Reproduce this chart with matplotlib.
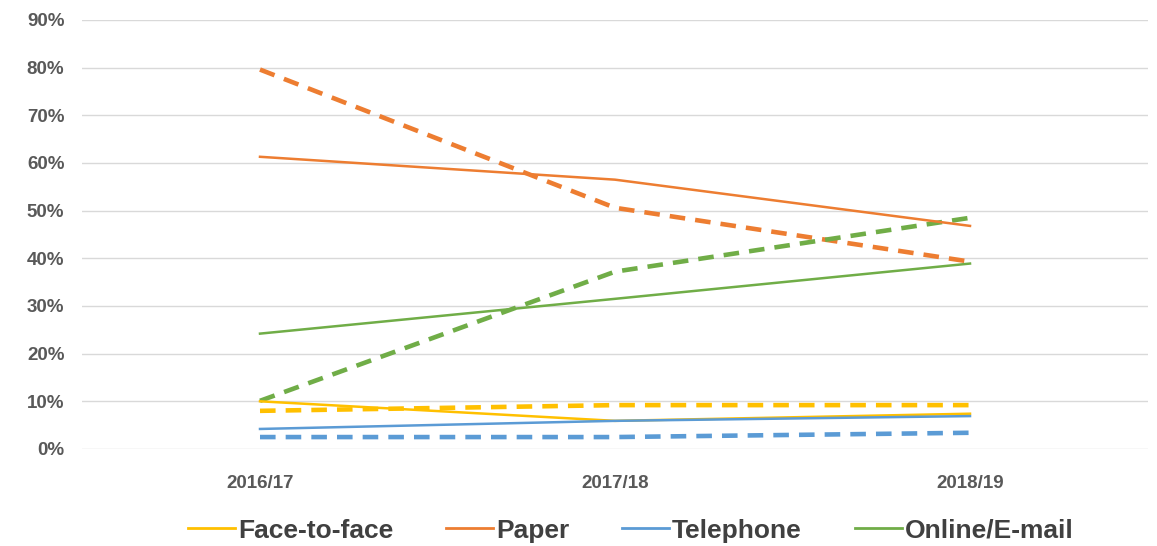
import matplotlib
matplotlib.use("Agg")
import matplotlib.pyplot as plt
from matplotlib.lines import Line2D

plt.rcParams['font.family'] = ['Liberation Sans', 'DejaVu Sans']

years = ["2016/17", "2017/18", "2018/19"]

# solid lines
face_solid = [10.0, 5.9, 7.4]
paper_solid = [61.3, 56.5, 46.8]
phone_solid = [4.2, 5.9, 6.9]
online_solid = [24.2, 31.5, 38.9]

# dashed lines
face_dash = [8.0, 9.2, 9.2]
paper_dash = [79.6, 50.6, 39.3]
phone_dash = [2.5, 2.5, 3.4]
online_dash = [10.1, 37.2, 48.5]

names = ["Face-to-face", "Paper", "Telephone", "Online/E-mail"]
colors = ["#FFC000", "#ED7D31", "#5B9BD5", "#70AD47"]

fig = plt.figure(figsize=(11.57, 5.46), dpi=100)
ax = fig.add_axes([0.0713, 0.1777, 0.9205, 0.7857])

x = list(range(len(years)))
solids = [face_solid, paper_solid, phone_solid, online_solid]
dashes = [face_dash, paper_dash, phone_dash, online_dash]

for vals, c in zip(dashes, colors):
    ax.plot(x, vals, color=c, lw=3.3, ls=(0, (3.4, 2.2)), solid_capstyle='butt')
for vals, c in zip(solids, colors):
    ax.plot(x, vals, color=c, lw=1.8)

ax.set_xlim(-0.5, 2.5)
ax.set_ylim(0, 90)
ax.set_yticks(range(0, 91, 10))
ax.set_yticklabels([f"{v}%" for v in range(0, 91, 10)])
ax.set_xticks(x)
ax.set_xticklabels(years)
ax.grid(axis='y', color='#D9D9D9', lw=1)
ax.set_axisbelow(True)
for s in ax.spines.values():
    s.set_visible(False)
ax.tick_params(axis='both', length=0, labelsize=13.5, labelcolor='#595959')
ax.tick_params(axis='y', pad=13)
ax.tick_params(axis='x', pad=19)
for t in ax.get_xticklabels() + ax.get_yticklabels():
    t.set_fontweight('bold')

handles = [Line2D([0], [0], color=c, lw=2) for c in colors]
fig.legend(handles, names, loc='center', bbox_to_anchor=(0.545, 0.028), ncol=4,
           frameon=False, handlelength=1.8, handletextpad=0.1, columnspacing=2.0,
           prop={'size': 19, 'weight': 'bold'}, labelcolor='#404040')

fig.savefig("out.png", dpi=100)
